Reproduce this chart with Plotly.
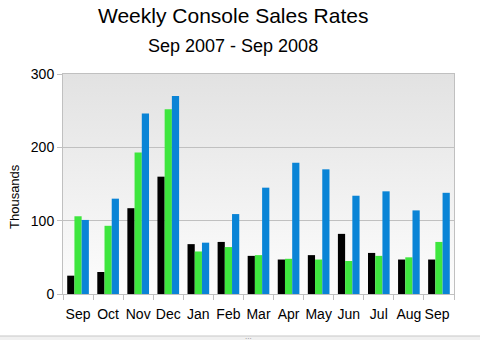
import plotly.graph_objects as go
import urllib.parse

months = ["Sep", "Oct", "Nov", "Dec", "Jan", "Feb", "Mar", "Apr", "May", "Jun", "Jul", "Aug", "Sep "]
series_black = [25, 30, 117, 160, 68, 71, 52, 47, 53, 82, 56, 47, 47]
series_green = [106, 93, 193, 252, 58, 64, 53, 48, 47, 45, 52, 50, 71]
series_blue = [101, 130, 246, 270, 70, 109, 145, 179, 170, 134, 140, 114, 138]
y_ticks = [0, 100, 200, 300]

FONT = "Liberation Sans, Arial, sans-serif"

fig = go.Figure()
for vals, col in [(series_black, "#000000"), (series_green, "#3ee63e"), (series_blue, "#0a84d6")]:
    fig.add_trace(go.Bar(x=months, y=vals, marker=dict(color=col, line=dict(width=0)),
                         showlegend=False))

svg = ("<svg xmlns='http://www.w3.org/2000/svg' width='100' height='100' preserveAspectRatio='none'>"
       "<defs><linearGradient id='g' x1='0' y1='0' x2='0' y2='1'>"
       "<stop offset='0' stop-color='#e2e2e2'/><stop offset='1' stop-color='#fdfdfd'/>"
       "</linearGradient></defs><rect width='100' height='100' fill='url(#g)'/></svg>")
src = "data:image/svg+xml;charset=utf-8," + urllib.parse.quote(svg)

shapes = [dict(type="rect", xref="paper", yref="paper", x0=-0.2, x1=1.2,
               y0=-0.215, y1=-0.1909, line=dict(color="#c8c8c8", width=1),
               fillcolor="#f0f0f0", layer="above")]

fig.update_layout(
    width=480, height=340,
    margin=dict(l=63, r=26, t=74, b=46),
    paper_bgcolor="white", plot_bgcolor="rgba(0,0,0,0)",
    barmode="group", bargap=0.28, bargroupgap=0,
    font=dict(family=FONT, color="#000000", size=14),
    shapes=shapes,
    images=[dict(source=src, xref="paper", yref="paper", x=0, y=1, sizex=1, sizey=1,
                 sizing="stretch", xanchor="left", yanchor="top", layer="below")],
    xaxis=dict(type="category", tickson="boundaries", ticks="outside", ticklen=5,
               tickcolor="#c0c0c0", showline=True, linecolor="#c0c0c0", mirror=True,
               showgrid=False, tickfont=dict(size=14), tickangle=0, automargin=False,
               ticklabelstandoff=7),
    yaxis=dict(range=[0, 300], tickvals=y_ticks, ticks="outside", ticklen=5,
               tickcolor="#c0c0c0", showline=True, linecolor="#c0c0c0", mirror=True,
               showgrid=True, gridcolor="#c0c0c0", gridwidth=1, zeroline=False,
               tickfont=dict(size=14), automargin=False),
    annotations=[
        dict(text="Weekly Console Sales Rates", xref="paper", yref="paper",
             x=(233 - 63) / 391, y=(294 - 15) / 220, showarrow=False,
             xanchor="center", yanchor="middle", font=dict(size=21)),
        dict(text="Sep 2007 - Sep 2008", xref="paper", yref="paper",
             x=(233 - 63) / 391, y=(294 - 46) / 220, showarrow=False,
             xanchor="center", yanchor="middle", font=dict(size=18)),
        dict(text="Thousands", xref="paper", yref="paper",
             x=(14 - 63) / 391, y=(294 - 197) / 220, showarrow=False, textangle=-90,
             xanchor="center", yanchor="middle", font=dict(size=13)),
        dict(text="...", xref="paper", yref="paper",
             x=(248 - 63) / 391, y=(294 - 336) / 220, showarrow=False,
             xanchor="center", yanchor="middle", font=dict(size=8, color="#888888")),
    ],
)

fig.write_html("out.html")
